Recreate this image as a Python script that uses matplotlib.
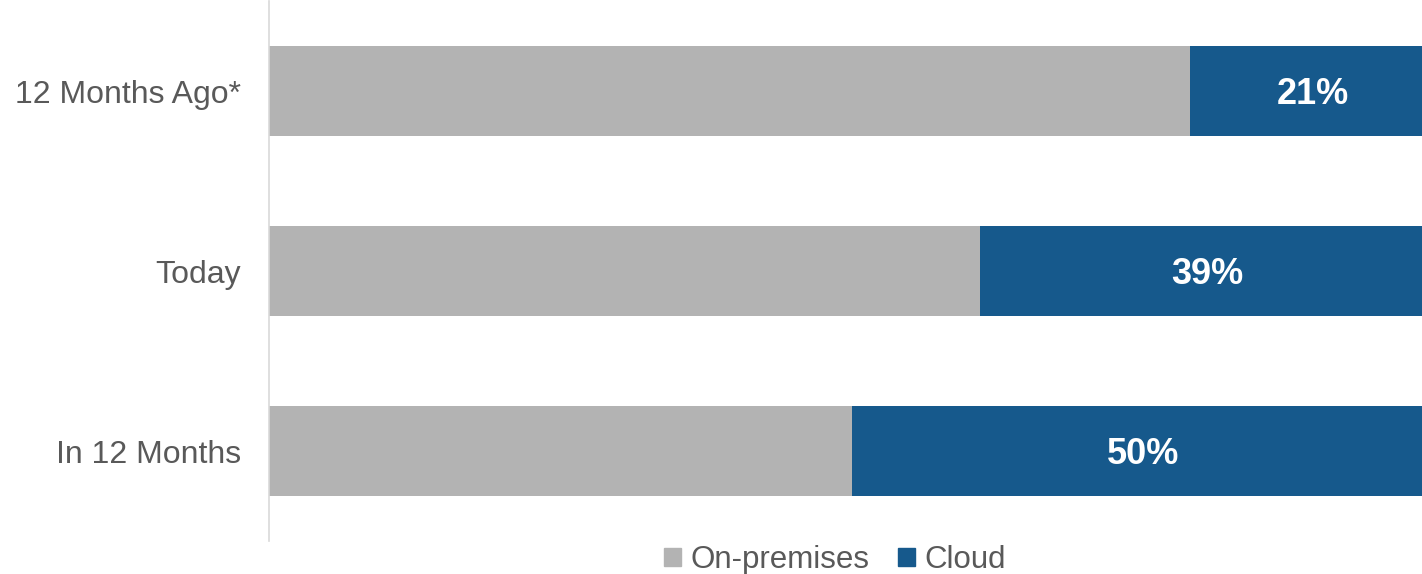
import matplotlib.pyplot as plt
from matplotlib.patches import Patch

plt.rcParams['font.family'] = ['Liberation Sans', 'DejaVu Sans']

periods = ['12 Months Ago*', 'Today', 'In 12 Months']
cloud = [21, 39, 50]
on_prem = [100 - c for c in cloud]

gray = '#b3b3b3'
blue = '#16598c'
text_col = '#595959'

fig = plt.figure(figsize=(14.22, 5.74), dpi=100)
ax = fig.add_axes([269 / 1422, 33 / 574, 1166 / 1422, 540 / 574])

y = list(range(len(periods)))
ax.barh(y, on_prem, height=0.5, color=gray, label='On-premises')
ax.barh(y, cloud, left=on_prem, height=0.5, color=blue, label='Cloud')

for yi, op, c in zip(y, on_prem, cloud):
    ax.text(op + c / 2, yi + 0.02, f'{c}%', ha='center', va='center',
            color='white', fontsize=26, fontweight='bold')

ax.set_xlim(0, 100)
ax.set_ylim(len(periods) - 0.5, -0.5)
ax.set_yticks(y)
ax.set_yticklabels(periods, fontsize=23, color=text_col)
ax.tick_params(axis='y', length=0, pad=20)
ax.set_xticks([])
for side in ['top', 'right', 'bottom']:
    ax.spines[side].set_visible(False)
ax.spines['left'].set_color('#d9d9d9')
ax.spines['left'].set_linewidth(1.2)

handles = [Patch(color=gray, label='On-premises'), Patch(color=blue, label='Cloud')]
fig.legend(handles=handles, loc='center', bbox_to_anchor=(835 / 1422, 1 - 560 / 574),
           ncol=2, frameon=False, fontsize=22.5, labelcolor=text_col,
           handlelength=0.55, handleheight=0.55, handletextpad=0.3,
           columnspacing=0.9)

fig.savefig('out.png', dpi=100)
